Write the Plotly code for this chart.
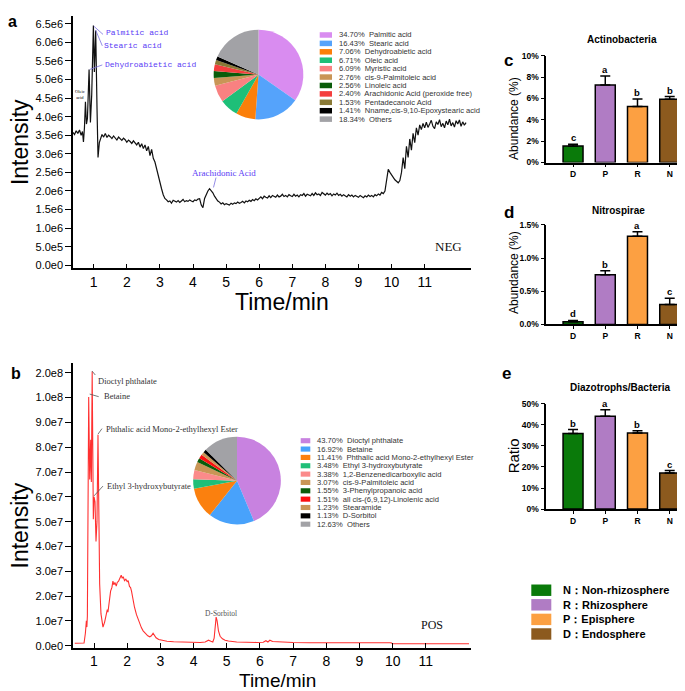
import plotly.graph_objects as go

W, H = 685, 691
def X(px): return px / W
def Y(py): return 1 - py / H

SANS = "Arial, Liberation Sans, sans-serif"
SERIF = "Times New Roman, Liberation Serif, serif"
MONO = "Courier New, Liberation Mono, monospace"

# ---------------- data: panel a (NEG chromatogram, intensity in 1e6) ----------------
neg_time = [0.37, 0.42, 0.47, 0.52, 0.57, 0.62, 0.66, 0.69, 0.72, 0.75, 0.78, 0.81,
            0.86, 0.90, 0.94, 0.99, 1.02, 1.06, 1.10, 1.13, 1.17, 1.21, 1.25, 1.30,
            1.35, 1.40, 1.45, 1.50, 1.55, 1.60, 1.65, 1.70, 1.75, 1.80, 1.85, 1.90,
            1.95, 2.00, 2.05, 2.10, 2.15, 2.20, 2.25, 2.30, 2.35, 2.40, 2.45, 2.50,
            2.55, 2.60, 2.65, 2.70, 2.75, 2.80, 2.85, 2.90, 2.95, 3.00, 3.05, 3.10, 3.15,
            3.20, 3.25, 3.30, 3.35, 3.40, 3.45, 3.50, 3.55, 3.60, 3.65, 3.70, 3.75,
            3.80, 3.85, 3.90, 3.95, 4.00, 4.05, 4.10, 4.15, 4.20, 4.25, 4.30, 4.35,
            4.40, 4.45, 4.50, 4.55, 4.60, 4.65, 4.70, 4.75, 4.80, 4.85, 4.90, 4.95,
            5.00, 5.05, 5.10, 5.15, 5.20, 5.25, 5.30, 5.35, 5.40, 5.45, 5.50, 5.55,
            5.60, 5.65, 5.70, 5.75, 5.80, 5.85, 5.90, 5.95,
            6.00, 6.05, 6.10, 6.15, 6.20, 6.25, 6.30, 6.35, 6.40, 6.45,
            6.50, 6.55, 6.60, 6.65, 6.70, 6.75, 6.80, 6.85, 6.90, 6.95,
            7.00, 7.05, 7.10, 7.15, 7.20, 7.25, 7.30, 7.35, 7.40, 7.45,
            7.50, 7.55, 7.60, 7.65, 7.70, 7.75, 7.80, 7.85, 7.90, 7.95,
            8.00, 8.05, 8.10, 8.15, 8.20, 8.25, 8.30, 8.35, 8.40, 8.45,
            8.50, 8.55, 8.60, 8.65, 8.70, 8.75, 8.80, 8.85, 8.90, 8.95,
            9.00, 9.05, 9.10, 9.15, 9.20, 9.25, 9.30, 9.35, 9.40, 9.45,
            9.50, 9.55, 9.60, 9.65, 9.70, 9.75,
            9.80, 9.85, 9.90, 9.95, 10.00, 10.05, 10.10, 10.15, 10.20, 10.25,
            10.30, 10.35, 10.40, 10.45, 10.50, 10.55, 10.60, 10.65, 10.70, 10.75,
            10.80, 10.85, 10.90, 10.95, 11.00,
            11.05, 11.10, 11.15, 11.20, 11.25, 11.30, 11.35, 11.40, 11.45, 11.50,
            11.55, 11.60, 11.65, 11.70, 11.75, 11.80, 11.85, 11.90, 11.95, 12.00,
            12.05, 12.10, 12.15, 12.20, 12.25]
neg_intensity = [3.58, 3.52, 3.62, 3.55, 3.64, 3.50, 3.60, 3.32, 3.70, 4.40, 3.80, 3.95,
                 5.27, 3.84, 4.60, 6.45, 5.20, 6.32, 4.20, 2.90, 3.30, 3.45, 3.52, 3.45,
                 3.55, 3.44, 3.50, 3.46, 3.41, 3.48, 3.43, 3.37, 3.45, 3.40, 3.36, 3.42,
                 3.38, 3.31, 3.37, 3.33, 3.28, 3.35, 3.30, 3.24, 3.31, 3.18, 3.27, 3.14,
                 3.24, 3.08, 3.20, 2.95, 3.12, 2.88, 2.78, 2.58, 2.38, 2.24, 2.06, 1.90, 1.80,
                 1.76, 1.71, 1.73, 1.67, 1.75, 1.72, 1.70, 1.74, 1.69, 1.73, 1.77, 1.71,
                 1.74, 1.72, 1.76, 1.73, 1.71, 1.76, 1.74, 1.78, 1.79, 1.62, 1.55, 1.80,
                 1.92, 2.00, 2.06, 2.01, 1.95, 1.86, 1.79, 1.73, 1.70, 1.65, 1.68, 1.63,
                 1.66, 1.64, 1.62, 1.67, 1.64, 1.68, 1.66, 1.70, 1.67, 1.69, 1.72, 1.68,
                 1.73, 1.71, 1.75, 1.72, 1.77, 1.74, 1.79, 1.76,
                 1.80, 1.84, 1.79, 1.86, 1.83, 1.81, 1.87, 1.82, 1.88, 1.85,
                 1.83, 1.89, 1.84, 1.86, 1.91, 1.85, 1.88, 1.84, 1.90, 1.87,
                 1.85, 1.91, 1.86, 1.89, 1.84, 1.90, 1.88, 1.93, 1.86, 1.91,
                 1.89, 1.87, 1.93, 1.88, 1.95, 1.90, 1.92, 1.88, 1.96, 1.91,
                 1.89, 1.94, 1.90, 1.93, 1.87, 1.92, 1.89, 1.94, 1.88, 1.91,
                 1.86, 1.90, 1.88, 1.84, 1.90, 1.86, 1.89, 1.84, 1.88, 1.85,
                 1.83, 1.88, 1.85, 1.82, 1.87, 1.84, 1.89, 1.85, 1.88, 1.84,
                 1.90, 1.87, 1.92, 1.89, 1.96, 1.93,
                 2.00, 2.30, 2.58, 2.50, 2.42, 2.35, 2.30, 2.26, 2.22, 2.28,
                 2.50, 2.90, 2.60, 3.20, 2.90, 3.40, 3.10, 3.55, 3.30, 3.70,
                 3.50, 3.78, 3.65, 3.82, 3.70,
                 3.85, 3.71, 3.80, 3.90, 3.74, 3.68, 3.86, 3.79, 3.92, 3.73,
                 3.82, 3.70, 3.88, 3.78, 3.93, 3.75, 3.84, 3.72, 3.89, 3.80,
                 3.91, 3.74, 3.86, 3.77, 3.84]
assert len(neg_time) == len(neg_intensity)

neg_ytick_vals = [0, 0.5, 1.0, 1.5, 2.0, 2.5, 3.0, 3.5, 4.0, 4.5, 5.0, 5.5, 6.0, 6.5]
neg_ytick_text = ["0.0e0", "5.0e5", "1.0e6", "1.5e6", "2.0e6", "2.5e6", "3.0e6", "3.5e6",
                  "4.0e6", "4.5e6", "5.0e6", "5.5e6", "6.0e6", "6.5e6"]
time_ticks = [1, 2, 3, 4, 5, 6, 7, 8, 9, 10, 11]

neg_pie_labels = ["Palmitic acid", "Stearic acid", "Dehydroabietic acid", "Oleic acid",
                  "Myristic acid", "cis-9-Palmitoleic acid", "Linoleic acid",
                  "Arachidonic Acid (peroxide free)", "Pentadecanoic Acid",
                  "Nname,cis-9,10-Epoxystearic acid", "Others"]
neg_pie_values = [34.70, 16.43, 7.06, 6.71, 6.09, 2.76, 2.56, 2.40, 1.53, 1.41, 18.34]
neg_pie_colors = ["#d98cf0", "#55a3fb", "#fb7f0a", "#1ebf78", "#f98181", "#c99556",
                  "#0a5c0a", "#f43e3e", "#8a7a36", "#000000", "#a2a2a6"]

# ---------------- data: panel b (POS chromatogram, intensity in 1e7) ----------------
pos_time = [0.42, 0.50, 0.60, 0.70, 0.74, 0.77, 0.785, 0.80, 0.84, 0.87, 0.90, 0.92,
            0.945, 0.96, 0.98, 1.00, 1.03, 1.06, 1.09, 1.12, 1.14, 1.17, 1.21, 1.27,
            1.32, 1.37, 1.40, 1.42, 1.46, 1.50, 1.54, 1.57, 1.60, 1.63, 1.67, 1.70,
            1.74, 1.78, 1.82, 1.85, 1.88, 1.92, 1.96, 2.00, 2.03, 2.07, 2.10, 2.13,
            2.17, 2.22, 2.28, 2.33, 2.38, 2.43, 2.48, 2.55, 2.62, 2.68, 2.73, 2.78,
            2.82, 2.87, 2.95, 3.03, 3.20, 3.40, 3.60, 3.80, 4.00, 4.20, 4.35, 4.45,
            4.52, 4.58, 4.62, 4.65, 4.68, 4.71, 4.75, 4.80, 4.87, 4.95, 5.05, 5.30,
            5.60, 5.90, 6.10, 6.18, 6.24, 6.30, 6.38, 6.60, 7.00, 7.50, 8.00, 8.50,
            9.00, 9.50, 9.95, 10.00, 10.50, 11.00, 11.50, 12.00, 12.30]
pos_intensity = [0.10, 0.10, 0.10, 0.11, 0.50, 1.00, 0.75, 1.20, 10.20, 6.70, 8.30, 6.60,
                 20.50, 6.60, 5.10, 6.00, 5.80, 4.20, 5.00, 8.50, 4.20, 2.50, 1.28, 0.75,
                 0.95, 1.28, 1.45, 1.35, 1.80, 2.20, 2.35, 2.60, 2.45, 2.55, 2.40, 2.55,
                 2.60, 2.70, 2.84, 2.72, 2.78, 2.62, 2.68, 2.58, 2.62, 2.38, 2.35, 2.20,
                 1.85, 1.55, 1.25, 1.05, 0.90, 0.72, 0.60, 0.50, 0.40, 0.36, 0.40, 0.50,
                 0.42, 0.32, 0.25, 0.22, 0.18, 0.16, 0.15, 0.16, 0.13, 0.13, 0.15, 0.22,
                 0.18, 0.15, 0.30, 0.80, 1.15, 1.00, 0.60, 0.38, 0.28, 0.22, 0.19, 0.15,
                 0.13, 0.13, 0.14, 0.20, 0.15, 0.22, 0.17, 0.15, 0.13, 0.12, 0.12, 0.12,
                 0.13, 0.12, 0.12, 0.08, 0.08, 0.08, 0.08, 0.08, 0.08]
assert len(pos_time) == len(pos_intensity)

pos_ytick_vals = [0, 1, 2, 3, 4, 5, 6, 7, 8, 9, 10, 20]
pos_ytick_text = ["0.0e0", "1.0e7", "2.0e7", "3.0e7", "4.0e7", "5.0e7", "6.0e7",
                  "7.0e7", "8.0e7", "9.0e7", "1.0e8", "2.0e8"]

def pos_scale(v):
    # axis is compressed above 1.0e8 (one tick step = 1.0e8 there)
    return v if v <= 10 else 10 + (v - 10) / 10.0

pos_pie_labels = ["Dioctyl phthalate", "Betaine", "Phthalic acid Mono-2-ethylhexyl Ester",
                  "Ethyl 3-hydroxybutyrate", "1,2-Benzenedicarboxylic acid",
                  "cis-9-Palmitoleic acid", "3-Phenylpropanoic acid",
                  "all cis-(6,9,12)-Linolenic acid", "Stearamide", "D-Sorbitol", "Others"]
pos_pie_values = [43.70, 16.92, 11.41, 3.48, 3.38, 3.07, 1.55, 1.51, 1.23, 1.13, 12.63]
pos_pie_colors = ["#c882e0", "#48a2fb", "#fb800e", "#1fbf79", "#fb8a8a", "#c99556",
                  "#0a5c0a", "#fb1010", "#c99556", "#000000", "#a2a2a6"]

# ---------------- data: bar panels c, d, e ----------------
groups = ["D", "P", "R", "N"]
bar_colors = ["#0a7a0a", "#b07cc4", "#fca042", "#8c5a1e"]

actino_mean = [1.55, 7.25, 5.25, 5.92]
actino_err = [0.15, 0.85, 0.70, 0.25]
actino_letters = ["c", "a", "b", "b"]

nitro_mean = [0.04, 0.75, 1.33, 0.30]
nitro_err = [0.02, 0.06, 0.065, 0.095]
nitro_letters = ["d", "b", "a", "c"]

diazo_mean = [35.9, 44.2, 36.2, 17.2]
diazo_err = [1.9, 3.0, 1.0, 1.1]
diazo_letters = ["b", "a", "b", "c"]

legend_labels = ["N：Non-rhizosphere", "R：Rhizosphere", "P：Episphere", "D：Endosphere"]
legend_colors = ["#0a7a0a", "#b07cc4", "#fca042", "#8c5a1e"]

# ---------------- figure ----------------
fig = go.Figure()
annotations = []
shapes = []

def text(x, y, s, size, color="#000", family=SANS, xanchor="center", yanchor="middle",
         angle=0, bold=False):
    if bold:
        s = "<b>" + s + "</b>"
    annotations.append(dict(x=X(x), y=Y(y), xref="paper", yref="paper", text=s,
                            showarrow=False, xanchor=xanchor, yanchor=yanchor,
                            textangle=angle, font=dict(size=size, color=color, family=family)))

def seg(x0, y0, x1, y1, color, width=0.8):
    shapes.append(dict(type="line", xref="paper", yref="paper", x0=X(x0), y0=Y(y0),
                       x1=X(x1), y1=Y(y1), line=dict(color=color, width=width)))

def rect(x0, y0, x1, y1, color):
    shapes.append(dict(type="rect", xref="paper", yref="paper", x0=X(x0), y0=Y(y1),
                       x1=X(x1), y1=Y(y0), line=dict(width=0), fillcolor=color))

# Panel a
fig.add_trace(go.Scatter(x=neg_time, y=neg_intensity, mode="lines",
                         line=dict(color="#111", width=1.2), xaxis="x", yaxis="y",
                         showlegend=False, hoverinfo="skip"))
# Panel b
fig.add_trace(go.Scatter(x=pos_time, y=[pos_scale(v) for v in pos_intensity], mode="lines",
                         line=dict(color="#ff3030", width=1.1), xaxis="x2", yaxis="y2",
                         showlegend=False, hoverinfo="skip"))

chrom_x = dict(showline=True, linecolor="black", linewidth=1.5, ticks="inside", ticklen=5,
               tickcolor="black", tickvals=time_ticks, showgrid=False, zeroline=False,
               tickfont=dict(size=14, family=SANS, color="#000"))
chrom_y = dict(showline=True, linecolor="black", linewidth=1.5, ticks="outside", ticklen=6,
               tickcolor="black", showgrid=False, zeroline=False,
               tickfont=dict(size=11, family=SANS, color="#000"))

layout = dict(
    width=W, height=H, margin=dict(l=0, r=0, t=0, b=0), autosize=False,
    paper_bgcolor="white", plot_bgcolor="white", showlegend=False,
    xaxis=dict(domain=[X(65), X(463)], range=[0.374, 12.4], anchor="y", **chrom_x),
    yaxis=dict(domain=[Y(259), Y(3)], range=[-0.08, 6.71], anchor="x",
               tickvals=neg_ytick_vals, ticktext=neg_ytick_text, **chrom_y),
    xaxis2=dict(domain=[X(65), X(463)], range=[0.367, 12.36], anchor="y2", **chrom_x),
    yaxis2=dict(domain=[Y(644), Y(355)], range=[-0.08, 11.4], anchor="x2",
                tickvals=[pos_scale(v) for v in pos_ytick_vals], ticktext=pos_ytick_text,
                **chrom_y),
)

# Pies
fig.add_trace(go.Pie(values=neg_pie_values, labels=neg_pie_labels, sort=False,
                     direction="clockwise", rotation=0, textinfo="none", hoverinfo="skip",
                     marker=dict(colors=neg_pie_colors, line=dict(width=0)),
                     domain=dict(x=[X(205), X(296)], y=[Y(108), Y(17)]), showlegend=False))
fig.add_trace(go.Pie(values=pos_pie_values, labels=pos_pie_labels, sort=False,
                     direction="clockwise", rotation=0, textinfo="none", hoverinfo="skip",
                     marker=dict(colors=pos_pie_colors, line=dict(width=0)),
                     domain=dict(x=[X(185), X(273)], y=[Y(519), Y(430)]), showlegend=False))

# Pie legends
for i, (lab, val, col) in enumerate(zip(neg_pie_labels, neg_pie_values, neg_pie_colors)):
    yy = 22.3 + i * 8.54
    rect(311.7, yy - 2.8, 324, yy + 2.8, col)
    text(329.3, yy, "%.2f%%  %s" % (val, lab), 7.6, "#333", xanchor="left")
for i, (lab, val, col) in enumerate(zip(pos_pie_labels, pos_pie_values, pos_pie_colors)):
    yy = 434 + i * 8.47
    rect(292.7, yy - 2.6, 302.3, yy + 2.6, col)
    text(307.3, yy, "%.2f%%  %s" % (val, lab), 7.6, "#333", xanchor="left")

# Bar panels
def bar_panel(n, means, errs, letters, yr, tvals, ttext, ytop, ybot):
    xa, ya = "x%d" % n, "y%d" % n
    fig.add_trace(go.Bar(x=list(range(len(groups))), y=means, width=0.62,
                         marker=dict(color=bar_colors, line=dict(color="black", width=1.5)),
                         error_y=dict(type="data", symmetric=False, array=errs,
                                      arrayminus=[0] * len(errs), color="black",
                                      thickness=1.5, width=5),
                         xaxis=xa, yaxis=ya, showlegend=False, hoverinfo="skip"))
    layout["xaxis%d" % n] = dict(domain=[X(538.3), X(683.3)], range=[-0.83, 3.67],
                                 anchor=ya, showline=True, linecolor="black", linewidth=1.5,
                                 ticks="outside", ticklen=3, tickcolor="black",
                                 tickvals=list(range(len(groups))), ticktext=groups,
                                 showgrid=False, zeroline=False,
                                 tickfont=dict(size=8.5, family=SANS, color="#000",
                                               weight="bold"))
    layout["yaxis%d" % n] = dict(domain=[Y(ybot), Y(ytop)], range=yr, anchor=xa,
                                 showline=True, linecolor="black", linewidth=1.5,
                                 ticks="outside", ticklen=4, tickcolor="black",
                                 tickvals=tvals, ticktext=ttext, showgrid=False,
                                 zeroline=False,
                                 tickfont=dict(size=8.5, family=SANS, color="#000",
                                               weight="bold"))
    for i, (m, e, l) in enumerate(zip(means, errs, letters)):
        annotations.append(dict(x=i, y=m + e, xref=xa, yref=ya, text="<b>%s</b>" % l,
                                showarrow=False, yanchor="bottom", yshift=-1,
                                font=dict(size=9.5, family=SANS, color="#000")))

bar_panel(3, actino_mean, actino_err, actino_letters, [0, 10],
          [0, 2, 4, 6, 8, 10], ["0%", "2%", "4%", "6%", "8%", "10%"], 43.3, 151.7)
bar_panel(4, nitro_mean, nitro_err, nitro_letters, [0, 1.5],
          [0, 0.5, 1.0, 1.5], ["0.0%", "0.5%", "1.0%", "1.5%"], 215, 316)
bar_panel(5, diazo_mean, diazo_err, diazo_letters, [0, 50],
          [0, 10, 20, 30, 40, 50], ["0%", "10%", "20%", "30%", "40%", "50%"], 396.7, 503.3)

# Panel labels & titles
text(4.5, 8.7, "a", 16, bold=True)
text(8.3, 366, "b", 16, bold=True)
text(500.7, 48.3, "c", 17, bold=True)
text(500.8, 202, "d", 17, bold=True)
text(499, 366, "e", 17, bold=True)

text(12, 131, "Intensity", 23, angle=-90)
text(12, 520, "Intensity", 23, angle=-90)
text(274, 293.3, "Time/min", 23)
text(269, 677.5, "Time/min", 19)

text(614, 26.7, "Actinobacteria", 10, bold=True)
text(610.7, 200, "Nitrospirae", 10, bold=True)
text(611.7, 380, "Diazotrophs/Bacteria", 10, bold=True)
text(505.8, 106.7, "Abundance (%)", 12, angle=-90)
text(505.8, 263, "Abundance (%)", 12, angle=-90)
text(505.8, 449, "Ratio", 15, angle=-90)

# Panel a peak labels
BLUE = "#5a3cf5"
text(95.7, 20, "Palmitic acid", 8, BLUE, MONO, xanchor="left")
text(94.3, 33.3, "Stearic acid", 8, BLUE, MONO, xanchor="left")
text(95, 52.7, "Dehydroabietic acid", 8, BLUE, MONO, xanchor="left")
text(71.5, 83, "Oleic<br>acid", 4.5, "#000", SERIF)
text(215.8, 162, "Arachidonic Acid", 9, BLUE, SERIF)
seg(85.7, 13.3, 95, 21.7, "#7a70e0")
seg(87.7, 17.5, 94.3, 33.3, "#7a70e0")
seg(81.7, 57.3, 94.3, 52.7, "#7a70e0")
seg(208, 167, 205.5, 177, "#7a70e0")
text(440, 237, "NEG", 13, "#111", SERIF)

# Panel b peak labels
GRAY = "#333"
text(88.3, 373.3, "Dioctyl phthalate", 8.5, GRAY, SERIF, xanchor="left")
text(94, 389, "Betaine", 8.5, GRAY, SERIF, xanchor="left")
text(96, 421.7, "Phthalic acid Mono-2-ethylhexyl Ester", 8.5, GRAY, SERIF, xanchor="left")
text(96.5, 480, "Ethyl 3-hydroxybutyrate", 8.5, GRAY, SERIF, xanchor="left")
text(213, 609, "D-Sorbitol", 7.5, "#555", SERIF)
seg(84, 363.3, 87.3, 367.3, "#555")
seg(81.7, 386.7, 90.7, 389.3, "#555")
seg(90, 427.3, 94, 421.7, "#555")
seg(86, 490, 95, 480, "#555")
text(423.5, 620.7, "POS", 12, "#111", SERIF)

# Group legend
for i, (lab, col) in enumerate(zip(legend_labels, legend_colors)):
    yy = 585.7 + i * 14.8
    rect(523.3, yy - 5.8, 543.3, yy + 5.8, col)
    text(552.7, yy, lab, 11, "#000", SANS, xanchor="left", bold=True)

layout["annotations"] = annotations
layout["shapes"] = shapes
fig.update_layout(**layout)
fig.write_html("out.html")
